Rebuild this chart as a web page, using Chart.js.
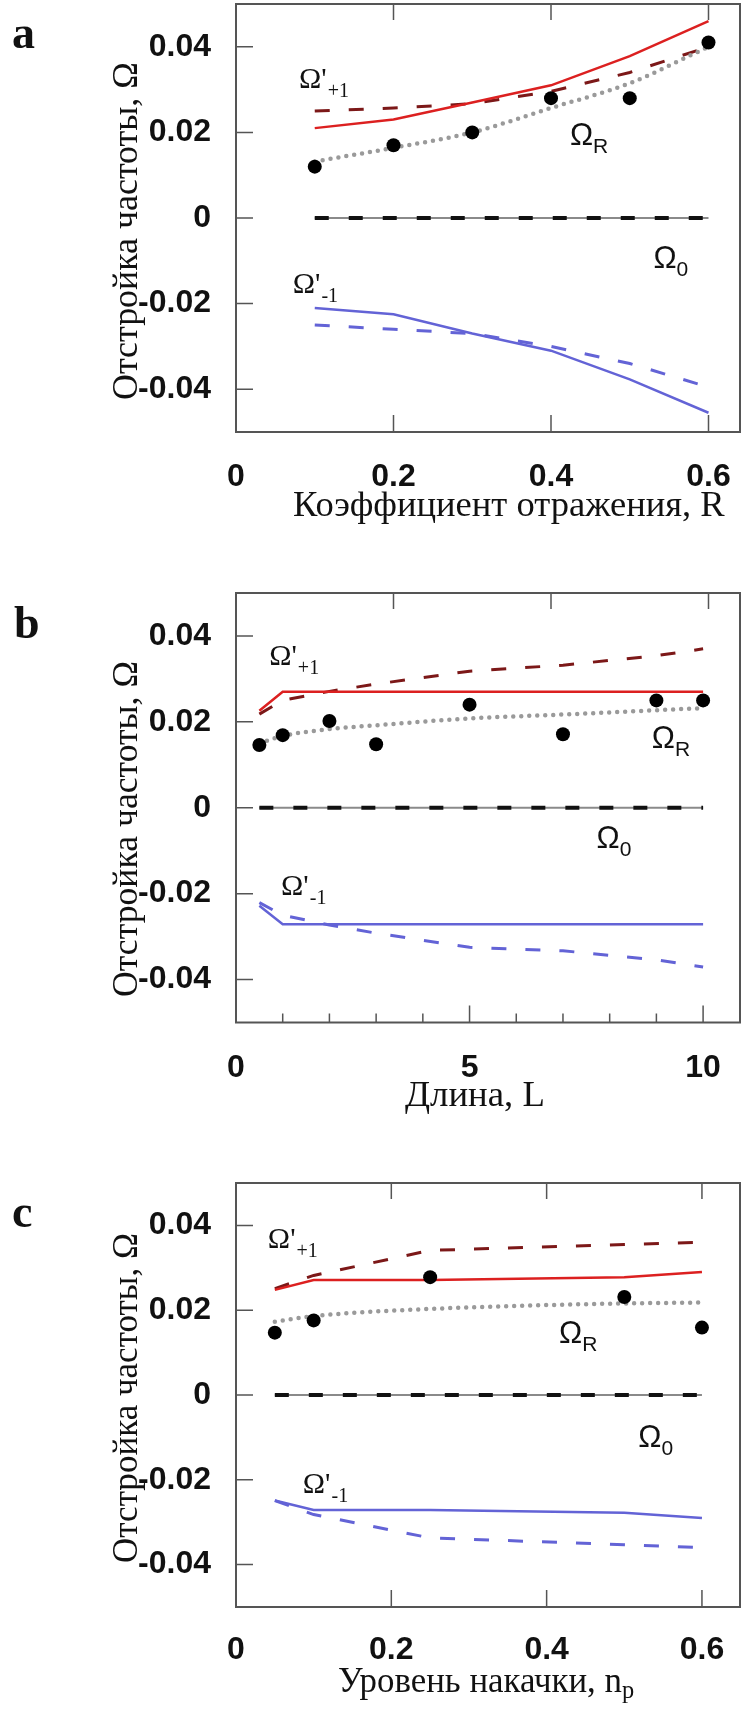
<!DOCTYPE html>
<html>
<head>
<meta charset="utf-8">
<script src="https://cdn.jsdelivr.net/npm/chart.js"></script>
<style>
  html, body { margin: 0; padding: 0; background: #fff; }
  #wrap { position: relative; width: 741px; height: 1711px; overflow: hidden; }
  #wrap canvas { position: absolute; left: 0; }
</style>
</head>
<body>
<div id="wrap">
  <canvas id="chartA" width="747" height="543" style="top:-3px"></canvas>
  <canvas id="chartB" width="747" height="576" style="top:540px"></canvas>
  <canvas id="chartC" width="747" height="595" style="top:1116px"></canvas>
</div>
<script>
// shared y axis
const yTicks = [-0.04, -0.02, 0, 0.02, 0.04];

// (a) reflection coefficient R
const xA = [0.1, 0.2, 0.3, 0.4, 0.5, 0.6];
const upSolidA = [0.021, 0.023, 0.027, 0.031, 0.0378, 0.046];
const upDashA = [0.025, 0.0257, 0.0267, 0.0296, 0.034, 0.040];
const fitA = [0.0132, 0.0164, 0.020, 0.0257, 0.0315, 0.040];
const measA = [0.012, 0.017, 0.020, 0.028, 0.028, 0.041];
const zeroA = [0, 0, 0, 0, 0, 0];
const lowSolidA = [-0.021, -0.0225, -0.027, -0.031, -0.0377, -0.0455];
const lowDashA = [-0.025, -0.026, -0.027, -0.0300, -0.034, -0.0395];
const xTicksA = [0, 0.2, 0.4, 0.6];

// (b) length L
const xB = [0.5, 1, 2, 3, 5, 7, 9, 10];
const upSolidB = [0.0226, 0.027, 0.027, 0.027, 0.027, 0.027, 0.027, 0.027];
const upDashB = [0.0218, 0.025, 0.0271, 0.0288, 0.0318, 0.0332, 0.0354, 0.037];
const fitB = [0.015, 0.0167, 0.0183, 0.0192, 0.0208, 0.0217, 0.0227, 0.0232];
const measB = [0.0146, 0.0169, 0.0202, 0.0148, 0.024, 0.0171, 0.025, 0.025];
const zeroB = [0, 0, 0, 0, 0, 0, 0, 0];
const lowSolidB = [-0.0228, -0.0271, -0.0271, -0.0271, -0.0271, -0.0271, -0.0271, -0.0271];
const lowDashB = [-0.0221, -0.025, -0.0273, -0.0292, -0.0325, -0.0333, -0.0354, -0.0371];
const xTicksB = [0, 1, 2, 3, 4, 5, 6, 7, 8, 9, 10];
const xLabelsB = [0, 5, 10];

// (c) pump level n_p
const xC = [0.05, 0.1, 0.25, 0.5, 0.6];
const upSolidC = [0.0248, 0.0271, 0.0271, 0.0278, 0.029];
const upDashC = [0.0251, 0.0282, 0.0341, 0.0355, 0.036];
const fitC = [0.0173, 0.0186, 0.0203, 0.0216, 0.0218];
const measC = [0.0147, 0.0176, 0.0278, 0.0231, 0.0159];
const zeroC = [0, 0, 0, 0, 0];
const lowSolidC = [-0.0249, -0.0271, -0.0271, -0.0278, -0.029];
const lowDashC = [-0.0249, -0.0282, -0.0337, -0.0353, -0.036];
const xTicksC = [0, 0.2, 0.4, 0.6];

const RED = '#dc2020', DARKRED = '#7c1818', BLUE = '#6363d6', GRAY = '#9a9a9a';
const SERIF = '"Liberation Serif", "Times New Roman", serif';
const SANS = '"Liberation Sans", Arial, sans-serif';
const Y_TITLE = 'Отстройка частоты, Ω';

// canvas-relative layout of each panel
const panels = {
  chartA: {
    letter: 'a', letterPos: [12, 51],
    xs: xA, up: upSolidA, upDash: upDashA, fit: fitA, meas: measA, zero: zeroA, low: lowSolidA, lowDash: lowDashA,
    xMax: 0.640, xTicks: xTicksA, xLabels: xTicksA, topMax: 0.640, topTicks: [0.2, 0.4, 0.6],
    padTop: 7, xAxisH: 108, xPad: 18,
    xTitle: 'Коэффициент отражения, R', xTitlePos: [293, 519], xTitleW: 432,
    yTitleY: 234, yTitleW: 338,
    labels: [
      { x: 0.08, y: 0.0304, kind: 'prime', sub: '+1' },
      { x: 0.424, y: 0.0171, kind: 'plain', sub: 'R' },
      { x: 0.53, y: -0.0116, kind: 'plain', sub: '0' },
      { x: 0.072, y: -0.0175, kind: 'prime', sub: '-1' }
    ]
  },
  chartB: {
    letter: 'b', letterPos: [14, 98],
    xs: xB, up: upSolidB, upDash: upDashB, fit: fitB, meas: measB, zero: zeroB, low: lowSolidB, lowDash: lowDashB,
    xMax: 10.79, xTicks: xTicksB, xLabels: xLabelsB, topMax: 0.640, topTicks: [0.2, 0.4, 0.6],
    padTop: 53, xAxisH: 93.5, xPad: 18,
    xTitle: 'Длина, L', xTitlePos: [405, 566], xTitleW: 140,
    yTitleY: 289, yTitleW: 336,
    labels: [
      { x: 0.71, y: 0.0333, kind: 'prime', sub: '+1' },
      { x: 8.9, y: 0.0138, kind: 'plain', sub: 'R' },
      { x: 7.72, y: -0.0093, kind: 'plain', sub: '0' },
      { x: 0.965, y: -0.0203, kind: 'prime', sub: '-1' }
    ]
  },
  chartC: {
    letter: 'c', letterPos: [12, 111],
    xs: xC, up: upSolidC, upDash: upDashC, fit: fitC, meas: measC, zero: zeroC, low: lowSolidC, lowDash: lowDashC,
    xMax: 0.649, xTicks: xTicksC, xLabels: xTicksC, topMax: 0.649, topTicks: [0.2, 0.4, 0.6],
    padTop: 67, xAxisH: 104, xPad: 16,
    xTitle: 'Уровень накачки, n', xSub: 'p', xTitlePos: [338, 576], xTitleW: 284,
    yTitleY: 282, yTitleW: 330,
    labels: [
      { x: 0.041, y: 0.0346, kind: 'prime', sub: '+1' },
      { x: 0.416, y: 0.0122, kind: 'plain', sub: 'R' },
      { x: 0.518, y: -0.0122, kind: 'plain', sub: '0' },
      { x: 0.086, y: -0.0231, kind: 'prime', sub: '-1' }
    ]
  }
};

function pts(xs, ys) {
  return xs.map((x, i) => ({ x: x, y: ys[i] }));
}

// font size that makes text span the given width
function fitSize(ctx, text, family, width) {
  ctx.font = '40px ' + family;
  return 40 * width / ctx.measureText(text).width;
}

// frame, inward ticks, Ω labels, axis titles, panel letter
const decor = {
  id: 'decor',
  afterDraw(chart) {
    const P = panels[chart.canvas.id];
    const ctx = chart.ctx, a = chart.chartArea;
    const sx = chart.scales.x, sy = chart.scales.y, st = chart.scales.xTop;
    ctx.save();
    ctx.strokeStyle = '#555';
    ctx.lineWidth = 1.5;
    ctx.beginPath();
    yTicks.forEach(v => {
      const p = sy.getPixelForValue(v);
      ctx.moveTo(a.left, p); ctx.lineTo(a.left + 17, p);
    });
    P.xTicks.forEach(v => {
      const p = sx.getPixelForValue(v);
      const len = P.xLabels.includes(v) ? 17 : 9;
      ctx.moveTo(p, a.bottom); ctx.lineTo(p, a.bottom - len);
    });
    P.topTicks.forEach(v => {
      const p = st.getPixelForValue(v);
      ctx.moveTo(p, a.top); ctx.lineTo(p, a.top + 16);
    });
    ctx.stroke();
    ctx.lineWidth = 2;
    ctx.strokeRect(a.left, a.top, a.right - a.left, a.bottom - a.top);

    ctx.fillStyle = '#111';
    ctx.textBaseline = 'alphabetic';
    ctx.textAlign = 'left';
    P.labels.forEach(L => {
      const x = sx.getPixelForValue(L.x), y = sy.getPixelForValue(L.y);
      if (L.kind === 'prime') {
        ctx.font = '30px ' + SERIF;
        ctx.fillText("Ω'", x, y);
        const w = ctx.measureText("Ω'").width;
        ctx.font = '20px ' + SERIF;
        ctx.fillText(L.sub, x + w + 1, y + 9);
      } else {
        ctx.font = '31px ' + SANS;
        ctx.fillText('Ω', x, y);
        const w = ctx.measureText('Ω').width;
        ctx.font = '21px ' + SANS;
        ctx.fillText(L.sub, x + w, y + 8);
      }
    });

    const xs = fitSize(ctx, P.xTitle, SERIF, P.xTitleW);
    ctx.font = xs + 'px ' + SERIF;
    ctx.fillText(P.xTitle, P.xTitlePos[0], P.xTitlePos[1]);
    if (P.xSub) {
      const w = ctx.measureText(P.xTitle).width;
      ctx.font = (xs * 0.7) + 'px ' + SERIF;
      ctx.fillText(P.xSub, P.xTitlePos[0] + w, P.xTitlePos[1] + 6);
    }

    const ys = fitSize(ctx, Y_TITLE, SERIF, P.yTitleW);
    ctx.save();
    ctx.translate(137, P.yTitleY);
    ctx.rotate(-Math.PI / 2);
    ctx.textAlign = 'center';
    ctx.font = ys + 'px ' + SERIF;
    ctx.fillText(Y_TITLE, 0, 0);
    ctx.restore();

    ctx.font = 'bold 46px ' + SERIF;
    ctx.fillText(P.letter, P.letterPos[0], P.letterPos[1]);
    ctx.restore();
  }
};

function makeChart(id) {
  const P = panels[id];
  const tickFont = { family: SANS, size: 32, weight: 'bold' };
  new Chart(document.getElementById(id), {
    type: 'line',
    data: {
      datasets: [
        { data: pts(P.xs, P.meas), showLine: false, pointRadius: 7, pointBackgroundColor: '#000', pointBorderWidth: 0 },
        { data: pts(P.xs, P.fit), borderColor: GRAY, borderWidth: 4.5, borderDash: [0, 8], borderCapStyle: 'round', cubicInterpolationMode: 'monotone' },
        { data: pts(P.xs, P.up), borderColor: RED, borderWidth: 2.5 },
        { data: pts(P.xs, P.upDash), borderColor: DARKRED, borderWidth: 3, borderDash: [15, 19] },
        { data: pts(P.xs, P.low), borderColor: BLUE, borderWidth: 2.5 },
        { data: pts(P.xs, P.lowDash), borderColor: BLUE, borderWidth: 3, borderDash: [15, 19] },
        { data: pts(P.xs, P.zero), borderColor: '#111', borderWidth: 4, borderDash: [14, 20] },
        { data: pts(P.xs, P.zero), borderColor: '#8a8a8a', borderWidth: 2 }
      ]
    },
    options: {
      responsive: false,
      animation: false,
      devicePixelRatio: 1,
      layout: { padding: { top: P.padTop, right: 0, left: 0, bottom: 0 } },
      elements: { point: { radius: 0 }, line: { tension: 0 } },
      plugins: { legend: { display: false }, tooltip: { enabled: false } },
      scales: {
        x: {
          type: 'linear', min: 0, max: P.xMax,
          grid: { display: false }, border: { display: false },
          ticks: {
            autoSkip: false, maxRotation: 0, padding: P.xPad, color: '#111', font: tickFont,
            callback: v => P.xLabels.includes(v) ? String(v) : ''
          },
          afterBuildTicks: s => { s.ticks = P.xTicks.map(v => ({ value: v })); },
          afterFit: s => { s.height = P.xAxisH; s.paddingLeft = 0; s.paddingRight = 0; }
        },
        xTop: { type: 'linear', position: 'top', display: false, min: 0, max: P.topMax },
        y: {
          min: -0.05, max: 0.05,
          grid: { display: false }, border: { display: false },
          ticks: {
            padding: 17, color: '#111', font: tickFont,
            callback: v => v === 0 ? '0' : v.toFixed(2)
          },
          afterBuildTicks: s => { s.ticks = yTicks.map(v => ({ value: v })); },
          afterFit: s => { s.width = 236; s.paddingTop = 0; s.paddingBottom = 0; }
        }
      }
    },
    plugins: [decor]
  });
}

['chartA', 'chartB', 'chartC'].forEach(makeChart);
</script>
</body>
</html>
